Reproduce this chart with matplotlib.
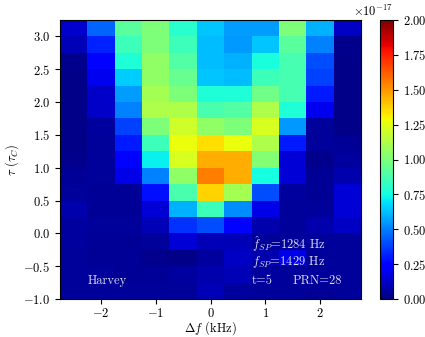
import numpy as np
import matplotlib
matplotlib.use("Agg")
import matplotlib.pyplot as plt

plt.rcParams['font.family'] = 'serif'
plt.rcParams['font.serif'] = ['cmr10']
plt.rcParams['mathtext.fontset'] = 'cm'
plt.rcParams['axes.formatter.use_mathtext'] = True
plt.rcParams['axes.unicode_minus'] = True

df_edges = np.arange(-2.75, 2.751, 0.5)      # kHz
tau_edges = np.arange(-1.0, 3.251, 0.25)     # chips

# power in units of 1e-17, rows listed from top (tau=3.125) to bottom (tau=-0.875)
rows_top_down = [
    [0.14, 0.45, 0.92, 1.00, 0.80, 0.64, 0.56, 0.56, 1.00, 0.60, 0.12],
    [0.10, 0.32, 0.85, 1.00, 0.85, 0.62, 0.55, 0.64, 0.92, 0.50, 0.03],
    [0.03, 0.25, 0.78, 1.05, 0.90, 0.62, 0.60, 0.76, 0.87, 0.40, 0.02],
    [0.02, 0.20, 0.65, 1.05, 0.95, 0.64, 0.62, 0.85, 0.87, 0.38, 0.02],
    [0.02, 0.13, 0.56, 1.10, 1.00, 0.78, 0.78, 0.97, 0.87, 0.30, 0.02],
    [0.02, 0.13, 0.50, 1.12, 1.12, 0.88, 0.90, 1.12, 0.78, 0.20, 0.02],
    [0.02, 0.06, 0.38, 1.00, 1.20, 1.05, 1.00, 1.22, 0.55, 0.05, 0.02],
    [0.02, 0.05, 0.30, 0.85, 1.27, 1.35, 1.27, 1.12, 0.30, 0.05, 0.04],
    [0.03, 0.05, 0.25, 0.72, 1.22, 1.45, 1.45, 1.02, 0.15, 0.03, 0.06],
    [0.04, 0.05, 0.18, 0.50, 1.05, 1.55, 1.45, 0.75, 0.15, 0.04, 0.08],
    [0.05, 0.04, 0.04, 0.28, 0.88, 1.37, 1.10, 0.40, 0.06, 0.04, 0.15],
    [0.08, 0.04, 0.04, 0.15, 0.60, 0.85, 0.53, 0.18, 0.05, 0.05, 0.15],
    [0.06, 0.05, 0.05, 0.10, 0.35, 0.40, 0.25, 0.08, 0.05, 0.08, 0.12],
    [0.06, 0.04, 0.04, 0.05, 0.15, 0.10, 0.10, 0.05, 0.05, 0.05, 0.05],
    [0.05, 0.04, 0.04, 0.03, 0.02, 0.06, 0.12, 0.08, 0.18, 0.05, 0.05],
    [0.05, 0.05, 0.04, 0.04, 0.06, 0.08, 0.10, 0.06, 0.05, 0.05, 0.05],
    [0.05, 0.05, 0.05, 0.05, 0.05, 0.10, 0.06, 0.05, 0.05, 0.04, 0.05],
]
power = np.array(rows_top_down[::-1]) * 1e-17

fig = plt.figure(figsize=(4.25, 3.37), dpi=100)
ax = fig.add_axes([60/425, 1-299/337, 301/425, 279/337])
cax = fig.add_axes([380/425, 1-299/337, 13/425, 279/337])

mesh = ax.pcolormesh(df_edges, tau_edges, power, cmap='jet', vmin=0, vmax=2e-17)
cb = fig.colorbar(mesh, cax=cax)
cb.set_ticks(np.arange(0, 2.01e-17, 0.25e-17))
cb.ax.tick_params(labelsize=9)
cb.ax.yaxis.get_offset_text().set_fontsize(9)

ax.set_xlim(-2.75, 2.75)
ax.set_ylim(-1.0, 3.25)
ax.set_xticks([-2, -1, 0, 1, 2])
ax.set_yticks(np.arange(-1.0, 3.01, 0.5))
ax.tick_params(labelsize=9)
ax.tick_params(axis='x', pad=2)
ax.set_xlabel(r'$\Delta f$ (kHz)', fontsize=9, labelpad=0)
ax.set_ylabel(r'$\tau$ ($\tau_C$)', fontsize=9, labelpad=1.5)

tc = '#dcdcf0'
ax.text(-2.25, -0.72, 'Harvey', color=tc, fontsize=9, va='center')
ax.text(0.75, -0.16, r'$\hat{f}_{SP}$=1284 Hz', color=tc, fontsize=9, va='center')
ax.text(0.75, -0.44, r'$f_{SP}$=1429 Hz', color=tc, fontsize=9, va='center')
ax.text(0.75, -0.72, 't=5', color=tc, fontsize=9, va='center')
ax.text(1.5, -0.72, 'PRN=28', color=tc, fontsize=9, va='center')

fig.savefig('out.png', dpi=100)
